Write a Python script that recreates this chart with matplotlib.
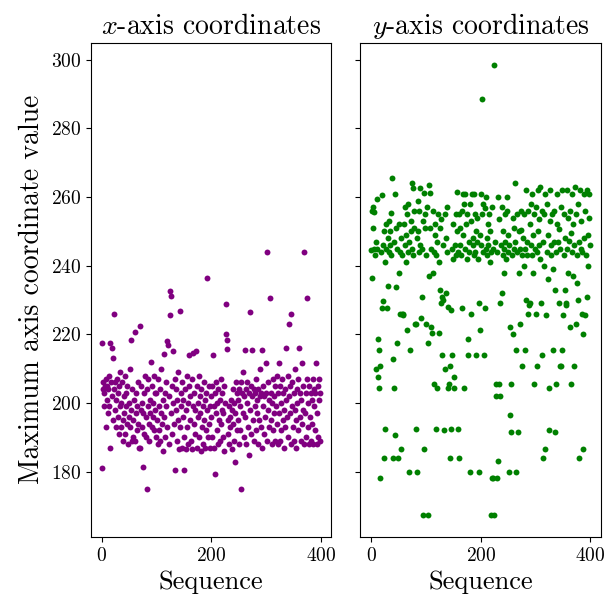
import matplotlib
matplotlib.use('Agg')
import matplotlib.pyplot as plt
import numpy as np

plt.rcParams['font.family'] = 'serif'
plt.rcParams['font.serif'] = ['cmr10']
plt.rcParams['mathtext.fontset'] = 'cm'
plt.rcParams['axes.formatter.use_mathtext'] = True
plt.rcParams['axes.unicode_minus'] = False

# maximum x-axis coordinate per sequence step
x_max = [
    181, 217.6, 204, 206, 199, 203, 205, 193, 207, 201, 205, 197, 204, 208, 199, 217.6, 187, 206, 216, 202,
    213, 195, 226, 204, 198, 206, 193, 201, 207, 196, 203, 191, 205, 199, 209, 193, 200, 206, 195, 189,
    202, 197, 208, 191, 203, 199, 194, 205, 188, 200, 196, 210, 193, 218.4, 198, 189, 204, 195, 190, 201,
    220.8, 189, 197, 203, 192, 199, 206, 194, 187, 222.5, 187, 198, 205, 193, 200, 197, 181.3, 203, 191, 208,
    196, 190, 204, 175, 199, 207, 194, 189, 201, 197, 212, 193, 205, 200, 196, 192, 208, 198, 203, 190,
    203, 195, 188, 207, 199, 192, 204, 189, 197, 210, 194, 201, 186, 214.2, 196, 203, 190, 206, 199, 218,
    193, 217, 202, 188, 232.7, 225.7, 231.2, 197, 205, 191, 215, 200, 194, 207, 180.5, 198, 204, 189, 201, 195,
    209, 186.5, 226.9, 193, 203, 199, 187, 206, 196, 201, 190, 180.5, 204, 186.5, 198, 208, 193, 200, 188, 205,
    214, 195, 202, 189, 207, 186.5, 199, 214.5, 194, 203, 191, 198, 215, 205, 187, 200, 196, 208, 190, 202,
    197, 186, 204, 193, 199, 188, 206, 195, 201, 187, 203, 192, 198, 236.3, 190, 205, 194, 199, 187, 202,
    196, 205, 190, 214, 199, 187, 203, 179.2, 197, 206, 192, 200, 188, 204, 195, 201, 189, 207, 194, 198,
    203, 190, 197, 205, 186, 200, 220.2, 228.9, 218.2, 215.8, 195, 191, 199, 188, 196, 193, 201, 186.5, 198, 194,
    204, 189, 200, 182.7, 197, 206, 192, 203, 195, 201, 188, 204, 199, 192, 206, 175, 203, 197, 209, 190,
    202, 196, 215.5, 204, 188, 200, 206, 193, 203, 184.7, 198, 226.4, 205, 191, 202, 215.5, 195, 204, 189, 199,
    203, 192, 207, 197, 201, 188, 204, 195, 202, 210, 193, 203, 187, 215.5, 199, 205, 191, 202, 196, 211.7,
    203, 189, 244, 198, 206, 193, 201, 230.7, 195, 203, 188, 200, 207, 192, 202, 197, 205, 189, 199, 208,
    194, 188, 203, 211.7, 197, 189, 205, 192, 200, 207, 195, 203, 187, 198, 204, 193, 201, 216, 196, 208,
    190, 223, 202, 197, 205, 188, 226, 199, 206, 193, 203, 189, 198, 210, 195, 187, 204, 200, 192, 207,
    216, 196, 203, 189, 201, 194, 211.7, 198, 205, 188, 244, 197, 203, 190, 207, 230.7, 193, 200, 188, 205,
    196, 203, 189, 201, 194, 207, 188, 199, 204, 192, 203, 211.7, 188, 197, 205, 190, 201, 207, 189, 203,
]

# maximum y-axis coordinate per sequence step
y_max = [
    244.5, 256, 236.3, 251, 257, 245, 255.5, 243, 209.8, 247, 259.4, 245, 218.5, 207.7, 204.5, 215.5, 178, 210.8, 244, 227.8,
    260.7, 246, 229.8, 184, 250, 241, 192.3, 245, 252, 227.8, 248, 234, 253, 244, 250, 246, 255.4, 243, 265.6, 212.8,
    184, 204.5, 247, 261, 190.7, 233.7, 251, 245, 217.4, 184, 238, 252, 226, 244, 186.5, 248, 226, 243, 226, 225.7,
    252, 257, 246, 241, 249, 255, 221.2, 244, 258, 180, 247, 215.5, 250, 253, 245, 264.2, 262.5, 243, 251, 256,
    223, 222.9, 192.3, 248, 180, 258.8, 250, 244, 256, 246, 262.5, 224.8, 231, 245, 253, 167.5, 261.2, 186.5, 255, 251,
    243, 222.9, 257, 217.4, 167.5, 237, 263.4, 251, 261.2, 245, 222, 220.5, 256, 238, 244, 205.4, 249, 252, 243, 192.3,
    204.5, 247, 255, 241, 220.5, 233, 251, 229, 253.6, 231, 214, 230, 246, 192, 255, 210, 248, 232, 244, 257,
    228, 204.5, 205.4, 210.8, 184, 227, 192.3, 245, 214, 252, 242, 207.7, 204.5, 246, 255, 243, 261.6, 250, 192.3, 244,
    255, 184, 251, 246, 243, 256, 227.8, 249, 261, 204.5, 258, 245, 261, 252, 242, 255, 214, 218.5, 247, 244,
    258, 180, 226, 253, 261, 246, 248, 243, 261, 255, 244, 250, 214, 247, 254, 242, 180, 229, 249, 221.2,
    261, 246, 255, 288.6, 244, 258, 214, 227.8, 256.8, 245, 260, 248, 243, 252, 246, 255, 241, 250, 244, 167.5,
    178, 257, 245, 178, 167.5, 298.4, 247, 202, 205.4, 178, 244, 260, 183, 253.6, 205.4, 202, 229, 246, 257, 231.9,
    243, 250, 245, 238, 255, 247, 242, 260, 256, 244, 249, 180, 246, 222.2, 196.5, 205.4, 191.6, 243, 254, 220,
    245, 251, 264.2, 247, 215.5, 180, 255, 244, 191.6, 250, 238, 222.9, 245, 250.5, 256, 243, 210.8, 248, 240, 255,
    215.5, 245, 230, 262, 247, 243, 226, 256, 228.5, 229, 252, 246, 258, 243, 261, 249, 238, 205.4, 255, 245,
    226, 257, 244, 210.8, 262, 250, 246, 253.5, 242, 263, 229, 256, 214, 184, 247, 255, 240, 261, 186.5, 225.7,
    244, 258, 249, 236, 204.5, 192, 253, 262, 246, 243, 255, 215.5, 239, 247, 256, 233, 191.5, 244, 205.4, 252,
    261, 247, 229, 250.6, 210.8, 245, 257, 210.8, 215.5, 262, 225.7, 243, 255, 233, 248, 228.5, 229, 262, 245, 254,
    238, 247.3, 256, 222, 205.4, 249.6, 244, 261, 237, 252, 210.8, 246, 263, 222.9, 255, 235, 243, 258, 230, 247,
    184, 262, 245, 253, 226, 244, 186.5, 220, 261, 248, 225.7, 256, 243, 262, 231, 249, 240, 261, 254, 246,
]

seq = np.arange(len(x_max))

fig, (ax1, ax2) = plt.subplots(1, 2, sharey=True, figsize=(6.05, 6.02), dpi=100)
fig.subplots_adjust(left=0.150, right=0.993, top=0.929, bottom=0.108, wspace=0.12)

ax1.scatter(seq, x_max, s=18, color='purple', linewidths=0)
ax2.scatter(seq, y_max, s=18, color='green', linewidths=0)

ax1.set_title(r'$x$-axis coordinates', fontsize=20)
ax2.set_title(r'$y$-axis coordinates', fontsize=20)
ax1.set_ylabel('Maximum axis coordinate value', fontsize=20)
for ax in (ax1, ax2):
    ax.set_xlabel('Sequence', fontsize=19)
    ax.tick_params(labelsize=14)

plt.savefig('out.png', dpi=100)
